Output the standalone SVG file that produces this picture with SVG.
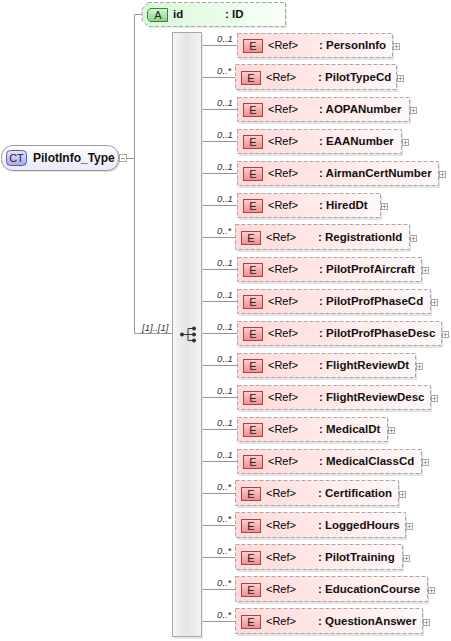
<svg xmlns="http://www.w3.org/2000/svg" width="451" height="641" viewBox="0 0 451 641">
<defs>
<linearGradient id="gEl" x1="0" y1="0" x2="1" y2="0"><stop offset="0" stop-color="#ffd9d9"/><stop offset="1" stop-color="#fff8f8"/></linearGradient>
<linearGradient id="gBadgeE" x1="0" y1="0" x2="0" y2="1"><stop offset="0" stop-color="#ffd0d0"/><stop offset="1" stop-color="#f08c8c"/></linearGradient>
<linearGradient id="gAttr" x1="0" y1="0" x2="1" y2="0"><stop offset="0" stop-color="#d8f8d8"/><stop offset="1" stop-color="#f8fff8"/></linearGradient>
<linearGradient id="gBadgeA" x1="0" y1="0" x2="0" y2="1"><stop offset="0" stop-color="#d8f8d8"/><stop offset="1" stop-color="#88d088"/></linearGradient>
<linearGradient id="gRoot" x1="0" y1="0" x2="0" y2="1"><stop offset="0" stop-color="#ffffff"/><stop offset="1" stop-color="#e8e8f8"/></linearGradient>
<linearGradient id="gCT" x1="0" y1="0" x2="0" y2="1"><stop offset="0" stop-color="#e4e4ff"/><stop offset="1" stop-color="#a8a8ee"/></linearGradient>
<linearGradient id="gSeq" x1="0" y1="0" x2="1" y2="0"><stop offset="0" stop-color="#f6f6f6"/><stop offset="0.5" stop-color="#e4e4e4"/><stop offset="1" stop-color="#f4f4f4"/></linearGradient>
</defs>
<style>
.ln{stroke:#999;stroke-width:1;fill:none}
.el{fill:url(#gEl);stroke:#a8a8a8;stroke-width:1;stroke-dasharray:4,2}
.sh{fill:#e4e4e4}
.be{fill:url(#gBadgeE);stroke:#a04848;stroke-width:1}
.bt{font-family:"Liberation Sans",Arial,sans-serif;font-size:11px;fill:#222;text-anchor:middle}
.ref{font-family:"Liberation Sans",Arial,sans-serif;font-size:11px;fill:#000}
.nm{font-family:"Liberation Sans",Arial,sans-serif;font-size:11.5px;font-weight:bold;fill:#111}
.rn{font-family:"Liberation Sans",Arial,sans-serif;font-size:12px;font-weight:bold;fill:#111}
.oc{font-family:"Liberation Sans",Arial,sans-serif;font-size:9.5px;font-style:italic;fill:#333}
.pb{fill:#fff;stroke:#a8a8a8;stroke-width:1}
.pl{stroke:#a0a0a0;stroke-width:1}
</style>

<g id="connectors">
<path class="ln" d="M127,158.5 H134.5 M134.5,14.5 V333.5 M134.5,14.5 H142 M134.5,333.5 H172"/>
<path class="ln" d="M201,45.5 H237 M201,77.5 H235 M201,109.5 H237 M201,141.5 H237 M201,173.5 H237 M201,205.5 H237 M201,237.5 H235 M201,269.5 H237 M201,301.5 H237 M201,333.5 H237 M201,365.5 H237 M201,397.5 H237 M201,429.5 H237 M201,461.5 H237 M201,493.5 H235 M201,525.5 H235 M201,557.5 H235 M201,589.5 H235 M201,621.5 H235"/>
<text class="oc" x="142" y="331">[1]..[1]</text>
<text class="oc" x="217" y="42">0..1</text>
<text class="oc" x="217" y="74">0..*</text>
<text class="oc" x="217" y="106">0..1</text>
<text class="oc" x="217" y="138">0..1</text>
<text class="oc" x="217" y="170">0..1</text>
<text class="oc" x="217" y="202">0..1</text>
<text class="oc" x="217" y="234">0..*</text>
<text class="oc" x="217" y="266">0..1</text>
<text class="oc" x="217" y="298">0..1</text>
<text class="oc" x="217" y="330">0..1</text>
<text class="oc" x="217" y="362">0..1</text>
<text class="oc" x="217" y="394">0..1</text>
<text class="oc" x="217" y="426">0..1</text>
<text class="oc" x="217" y="458">0..1</text>
<text class="oc" x="217" y="490">0..*</text>
<text class="oc" x="217" y="522">0..*</text>
<text class="oc" x="217" y="554">0..*</text>
<text class="oc" x="217" y="586">0..*</text>
<text class="oc" x="217" y="618">0..*</text>
</g>

<g id="root">
<rect x="3" y="147" width="117" height="25" rx="11" fill="#e0e0e0"/>
<rect x="1.5" y="145.5" width="117" height="25" rx="11" fill="url(#gRoot)" stroke="#999"/>
<rect x="6.5" y="150.5" width="20" height="15" rx="4" fill="url(#gCT)" stroke="#5a5aa0"/>
<text class="bt" x="16.5" y="162">CT</text>
<text class="rn" x="33" y="162">PilotInfo_Type</text>
<rect class="pb" x="119.5" y="154.5" width="7" height="7"/>
<path class="pl" d="M121,158.5 H125"/>
</g>

<g id="attr-id">
<path d="M150,4 H287 V28 H150 L144,21 V11 Z" fill="#e8e8e8"/>
<path d="M148,2.5 H285.5 V26.5 H148 L142,20 V9 Z" fill="url(#gAttr)" stroke="#a8a8a8" stroke-dasharray="4,2"/>
<path d="M150,8.5 H167.5 V21.5 H150 L147.5,18.5 V11.5 Z" fill="url(#gBadgeA)" stroke="#3f7f3f"/>
<text class="bt" x="158" y="19">A</text>
<text class="nm" x="173" y="18">id</text>
<text class="nm" x="225" y="18">: ID</text>
</g>

<g id="sequence">
<rect x="174" y="34" width="29" height="605" fill="#e8e8e8"/>
<rect x="172.5" y="32.5" width="29" height="604" fill="url(#gSeq)" stroke="#a8a8a8"/>
<path d="M182,334.5 H188 M188,328.5 V340.5 M188,328.5 H194 M188,340.5 H194 M188,334.5 H194" stroke="#333" stroke-width="1" fill="none"/>
<circle cx="182" cy="334.5" r="2" fill="#333"/>
<circle cx="194" cy="328.5" r="2" fill="#333"/>
<circle cx="194" cy="334.5" r="2" fill="#333"/>
<circle cx="194" cy="340.5" r="2" fill="#333"/>
</g>

<g id="el-PersonInfo">
<rect class="sh" x="239" y="35" width="155" height="25"/>
<rect class="el" x="237.5" y="33.5" width="155" height="24"/>
<rect class="be" x="243.5" y="39.5" width="19" height="13"/>
<text class="bt" x="253" y="50">E</text>
<text class="ref" x="268" y="49">&lt;Ref&gt;</text>
<text class="nm" x="319" y="49">: PersonInfo</text>
<rect class="pb" x="393.5" y="43.5" width="6" height="6"/>
<path class="pl" d="M394.5,46.5 H398.5 M396.5,44.5 V48.5"/>
</g>

<g id="el-PilotTypeCd">
<rect class="sh" x="237" y="66" width="161" height="26"/>
<rect class="el" x="235.5" y="64.5" width="161" height="25"/>
<rect class="be" x="241.5" y="71.5" width="19" height="13"/>
<text class="bt" x="251" y="82">E</text>
<text class="ref" x="266" y="81">&lt;Ref&gt;</text>
<text class="nm" x="318" y="81">: PilotTypeCd</text>
<rect class="pb" x="397.5" y="75.5" width="6" height="6"/>
<path class="pl" d="M398.5,78.5 H402.5 M400.5,76.5 V80.5"/>
</g>

<g id="el-AOPANumber">
<rect class="sh" x="239" y="99" width="172" height="25"/>
<rect class="el" x="237.5" y="97.5" width="172" height="24"/>
<rect class="be" x="243.5" y="103.5" width="19" height="13"/>
<text class="bt" x="253" y="114">E</text>
<text class="ref" x="268" y="113">&lt;Ref&gt;</text>
<text class="nm" x="319" y="113">: AOPANumber</text>
<rect class="pb" x="410.5" y="107.5" width="6" height="6"/>
<path class="pl" d="M411.5,110.5 H415.5 M413.5,108.5 V112.5"/>
</g>

<g id="el-EAANumber">
<rect class="sh" x="239" y="131" width="164" height="25"/>
<rect class="el" x="237.5" y="129.5" width="164" height="24"/>
<rect class="be" x="243.5" y="135.5" width="19" height="13"/>
<text class="bt" x="253" y="146">E</text>
<text class="ref" x="268" y="145">&lt;Ref&gt;</text>
<text class="nm" x="319" y="145">: EAANumber</text>
<rect class="pb" x="402.5" y="139.5" width="6" height="6"/>
<path class="pl" d="M403.5,142.5 H407.5 M405.5,140.5 V144.5"/>
</g>

<g id="el-AirmanCertNumber">
<rect class="sh" x="239" y="163" width="201" height="25"/>
<rect class="el" x="237.5" y="161.5" width="201" height="24"/>
<rect class="be" x="243.5" y="167.5" width="19" height="13"/>
<text class="bt" x="253" y="178">E</text>
<text class="ref" x="268" y="177">&lt;Ref&gt;</text>
<text class="nm" x="319" y="177">: AirmanCertNumber</text>
<rect class="pb" x="439.5" y="171.5" width="6" height="6"/>
<path class="pl" d="M440.5,174.5 H444.5 M442.5,172.5 V176.5"/>
</g>

<g id="el-HiredDt">
<rect class="sh" x="239" y="195" width="143" height="25"/>
<rect class="el" x="237.5" y="193.5" width="143" height="24"/>
<rect class="be" x="243.5" y="199.5" width="19" height="13"/>
<text class="bt" x="253" y="210">E</text>
<text class="ref" x="268" y="209">&lt;Ref&gt;</text>
<text class="nm" x="319" y="209">: HiredDt</text>
<rect class="pb" x="381.5" y="203.5" width="6" height="6"/>
<path class="pl" d="M382.5,206.5 H386.5 M384.5,204.5 V208.5"/>
</g>

<g id="el-RegistrationId">
<rect class="sh" x="237" y="226" width="174" height="26"/>
<rect class="el" x="235.5" y="224.5" width="174" height="25"/>
<rect class="be" x="241.5" y="231.5" width="19" height="13"/>
<text class="bt" x="251" y="242">E</text>
<text class="ref" x="266" y="241">&lt;Ref&gt;</text>
<text class="nm" x="318" y="241">: RegistrationId</text>
<rect class="pb" x="410.5" y="235.5" width="6" height="6"/>
<path class="pl" d="M411.5,238.5 H415.5 M413.5,236.5 V240.5"/>
</g>

<g id="el-PilotProfAircraft">
<rect class="sh" x="239" y="259" width="184" height="25"/>
<rect class="el" x="237.5" y="257.5" width="184" height="24"/>
<rect class="be" x="243.5" y="263.5" width="19" height="13"/>
<text class="bt" x="253" y="274">E</text>
<text class="ref" x="268" y="273">&lt;Ref&gt;</text>
<text class="nm" x="319" y="273">: PilotProfAircraft</text>
<rect class="pb" x="422.5" y="267.5" width="6" height="6"/>
<path class="pl" d="M423.5,270.5 H427.5 M425.5,268.5 V272.5"/>
</g>

<g id="el-PilotProfPhaseCd">
<rect class="sh" x="239" y="291" width="193" height="25"/>
<rect class="el" x="237.5" y="289.5" width="193" height="24"/>
<rect class="be" x="243.5" y="295.5" width="19" height="13"/>
<text class="bt" x="253" y="306">E</text>
<text class="ref" x="268" y="305">&lt;Ref&gt;</text>
<text class="nm" x="319" y="305">: PilotProfPhaseCd</text>
<rect class="pb" x="431.5" y="299.5" width="6" height="6"/>
<path class="pl" d="M432.5,302.5 H436.5 M434.5,300.5 V304.5"/>
</g>

<g id="el-PilotProfPhaseDesc">
<rect class="sh" x="239" y="323" width="204" height="25"/>
<rect class="el" x="237.5" y="321.5" width="204" height="24"/>
<rect class="be" x="243.5" y="327.5" width="19" height="13"/>
<text class="bt" x="253" y="338">E</text>
<text class="ref" x="268" y="337">&lt;Ref&gt;</text>
<text class="nm" x="319" y="337">: PilotProfPhaseDesc</text>
<rect class="pb" x="442.5" y="331.5" width="6" height="6"/>
<path class="pl" d="M443.5,334.5 H447.5 M445.5,332.5 V336.5"/>
</g>

<g id="el-FlightReviewDt">
<rect class="sh" x="239" y="355" width="178" height="25"/>
<rect class="el" x="237.5" y="353.5" width="178" height="24"/>
<rect class="be" x="243.5" y="359.5" width="19" height="13"/>
<text class="bt" x="253" y="370">E</text>
<text class="ref" x="268" y="369">&lt;Ref&gt;</text>
<text class="nm" x="319" y="369">: FlightReviewDt</text>
<rect class="pb" x="416.5" y="363.5" width="6" height="6"/>
<path class="pl" d="M417.5,366.5 H421.5 M419.5,364.5 V368.5"/>
</g>

<g id="el-FlightReviewDesc">
<rect class="sh" x="239" y="387" width="193" height="25"/>
<rect class="el" x="237.5" y="385.5" width="193" height="24"/>
<rect class="be" x="243.5" y="391.5" width="19" height="13"/>
<text class="bt" x="253" y="402">E</text>
<text class="ref" x="268" y="401">&lt;Ref&gt;</text>
<text class="nm" x="319" y="401">: FlightReviewDesc</text>
<rect class="pb" x="431.5" y="395.5" width="6" height="6"/>
<path class="pl" d="M432.5,398.5 H436.5 M434.5,396.5 V400.5"/>
</g>

<g id="el-MedicalDt">
<rect class="sh" x="239" y="419" width="150" height="25"/>
<rect class="el" x="237.5" y="417.5" width="150" height="24"/>
<rect class="be" x="243.5" y="423.5" width="19" height="13"/>
<text class="bt" x="253" y="434">E</text>
<text class="ref" x="268" y="433">&lt;Ref&gt;</text>
<text class="nm" x="319" y="433">: MedicalDt</text>
<rect class="pb" x="388.5" y="427.5" width="6" height="6"/>
<path class="pl" d="M389.5,430.5 H393.5 M391.5,428.5 V432.5"/>
</g>

<g id="el-MedicalClassCd">
<rect class="sh" x="239" y="451" width="184" height="25"/>
<rect class="el" x="237.5" y="449.5" width="184" height="24"/>
<rect class="be" x="243.5" y="455.5" width="19" height="13"/>
<text class="bt" x="253" y="466">E</text>
<text class="ref" x="268" y="465">&lt;Ref&gt;</text>
<text class="nm" x="319" y="465">: MedicalClassCd</text>
<rect class="pb" x="422.5" y="459.5" width="6" height="6"/>
<path class="pl" d="M423.5,462.5 H427.5 M425.5,460.5 V464.5"/>
</g>

<g id="el-Certification">
<rect class="sh" x="237" y="482" width="163" height="26"/>
<rect class="el" x="235.5" y="480.5" width="163" height="25"/>
<rect class="be" x="241.5" y="487.5" width="19" height="13"/>
<text class="bt" x="251" y="498">E</text>
<text class="ref" x="266" y="497">&lt;Ref&gt;</text>
<text class="nm" x="318" y="497">: Certification</text>
<rect class="pb" x="399.5" y="491.5" width="6" height="6"/>
<path class="pl" d="M400.5,494.5 H404.5 M402.5,492.5 V496.5"/>
</g>

<g id="el-LoggedHours">
<rect class="sh" x="237" y="514" width="170" height="26"/>
<rect class="el" x="235.5" y="512.5" width="170" height="25"/>
<rect class="be" x="241.5" y="519.5" width="19" height="13"/>
<text class="bt" x="251" y="530">E</text>
<text class="ref" x="266" y="529">&lt;Ref&gt;</text>
<text class="nm" x="318" y="529">: LoggedHours</text>
<rect class="pb" x="406.5" y="523.5" width="6" height="6"/>
<path class="pl" d="M407.5,526.5 H411.5 M409.5,524.5 V528.5"/>
</g>

<g id="el-PilotTraining">
<rect class="sh" x="237" y="546" width="167" height="26"/>
<rect class="el" x="235.5" y="544.5" width="167" height="25"/>
<rect class="be" x="241.5" y="551.5" width="19" height="13"/>
<text class="bt" x="251" y="562">E</text>
<text class="ref" x="266" y="561">&lt;Ref&gt;</text>
<text class="nm" x="318" y="561">: PilotTraining</text>
<rect class="pb" x="403.5" y="555.5" width="6" height="6"/>
<path class="pl" d="M404.5,558.5 H408.5 M406.5,556.5 V560.5"/>
</g>

<g id="el-EducationCourse">
<rect class="sh" x="237" y="578" width="192" height="26"/>
<rect class="el" x="235.5" y="576.5" width="192" height="25"/>
<rect class="be" x="241.5" y="583.5" width="19" height="13"/>
<text class="bt" x="251" y="594">E</text>
<text class="ref" x="266" y="593">&lt;Ref&gt;</text>
<text class="nm" x="318" y="593">: EducationCourse</text>
<rect class="pb" x="428.5" y="587.5" width="6" height="6"/>
<path class="pl" d="M429.5,590.5 H433.5 M431.5,588.5 V592.5"/>
</g>

<g id="el-QuestionAnswer">
<rect class="sh" x="237" y="610" width="187" height="26"/>
<rect class="el" x="235.5" y="608.5" width="187" height="25"/>
<rect class="be" x="241.5" y="615.5" width="19" height="13"/>
<text class="bt" x="251" y="626">E</text>
<text class="ref" x="266" y="625">&lt;Ref&gt;</text>
<text class="nm" x="318" y="625">: QuestionAnswer</text>
<rect class="pb" x="423.5" y="619.5" width="6" height="6"/>
<path class="pl" d="M424.5,622.5 H428.5 M426.5,620.5 V624.5"/>
</g>
</svg>
